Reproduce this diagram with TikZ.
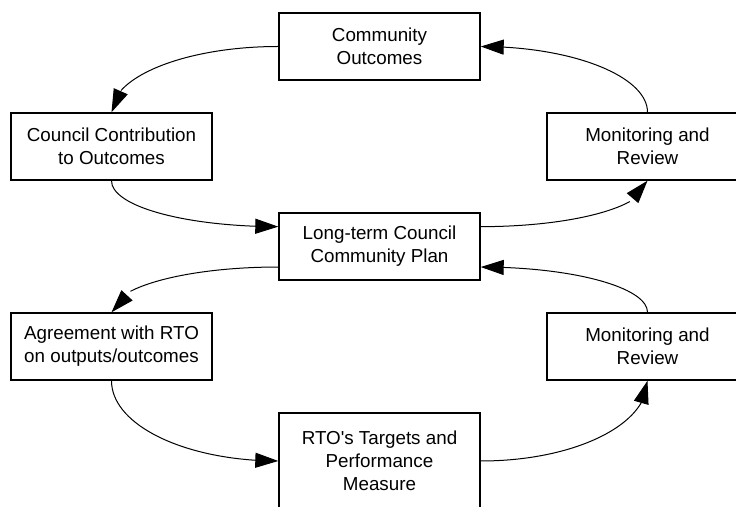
\documentclass[tikz,border=0pt]{standalone}
\usepackage{fontspec}
\newfontfamily\labelfont{Liberation Sans}
\usetikzlibrary{arrows.meta,bending,calc}
\begin{document}
\begin{tikzpicture}[x=1pt,y=1pt,
  stage/.style={draw, line width=1.4pt, minimum width=201pt, minimum height=67pt,
    inner sep=0pt, align=center, font=\labelfont\fontsize{18.8}{23}\selectfont},
  flow/.style={line width=1pt, -{Triangle[length=23pt,width=15pt,flex]}}]
\useasboundingbox (0,0) rectangle (736,506);

% planning cycle stages
\node[stage] (co)  at (379.5,459.5) {Community\\Outcomes};
\node[stage] (cc)  at (111.5,359.5) {Council Contribution\\to Outcomes};
\node[stage] (mr1) at (647.5,359.5) {Monitoring and\\Review};
\node[stage] (lt)  at (379.5,259.5) {Long-term Council\\Community Plan};
\node[stage] (ag)  at (111.5,159.5) {Agreement with RTO\\on outputs/outcomes};
\node[stage] (mr2) at (647.5,159.5) {Monitoring and\\Review};
\node[stage, minimum height=96pt] (rto) at (379.5,45) {RTO's Targets and\\Performance\\Measure};

% attachment points on the plan box
\coordinate (ltUL) at ($(lt.north west)!0.21!(lt.south west)$);
\coordinate (ltLL) at ($(lt.north west)!0.8!(lt.south west)$);
\coordinate (ltUR) at ($(lt.north east)!0.21!(lt.south east)$);
\coordinate (ltLR) at ($(lt.north east)!0.8!(lt.south east)$);

% upper cycle (quarter-ellipse connectors)
\draw[flow] (co.west) .. controls +(-92,0) and +(0,36) .. (cc.north);
\draw[flow] (cc.south) .. controls +(0,-26) and +(-92,0) .. (ltUL);
\draw[flow] (ltUR) .. controls +(92,0) and +(0,-26) .. (mr1.south);
\draw[flow] (mr1.north) .. controls +(0,36) and +(92,0) .. (co.east);

% lower cycle
\draw[flow] (ltLL) .. controls +(-92,0) and +(0,25) .. (ag.north);
\draw[flow] (ag.south) .. controls +(0,-45) and +(-92,0) .. (rto.west);
\draw[flow] (rto.east) .. controls +(92,0) and +(0,-45) .. (mr2.south);
\draw[flow] (mr2.north) .. controls +(0,25) and +(92,0) .. (ltLR);
\end{tikzpicture}
\end{document}
